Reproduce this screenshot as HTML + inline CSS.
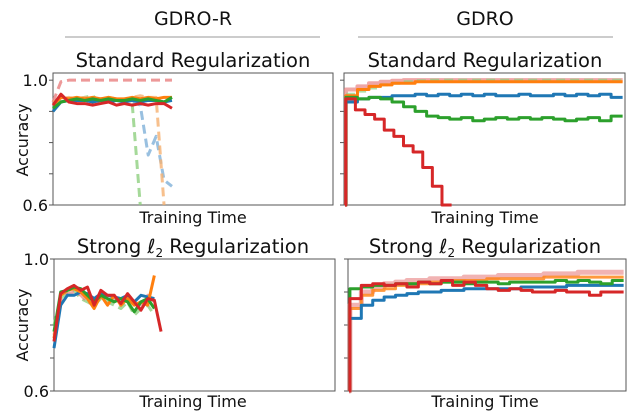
<!DOCTYPE html>
<html><head><meta charset="utf-8"><style>
body{margin:0;background:#fff;font-family:"Liberation Sans","DejaVu Sans",sans-serif}
svg text{font-family:"DejaVu Sans","Liberation Sans",sans-serif;fill:#111}
</style></head><body>
<svg id="c" width="640" height="412" viewBox="0 0 640 412" xmlns="http://www.w3.org/2000/svg">
<text x="193" y="25" font-size="19" text-anchor="middle">GDRO-R</text>
<line x1="65" y1="37" x2="320" y2="37" stroke="#999"/>
<text x="485" y="25" font-size="19" text-anchor="middle">GDRO</text>
<line x1="358" y1="37" x2="613" y2="37" stroke="#999"/>
<text x="193" y="67" font-size="19.5" text-anchor="middle">Standard Regularization</text>
<text x="485" y="67" font-size="19.5" text-anchor="middle">Standard Regularization</text>
<text x="193" y="253" font-size="19.5" text-anchor="middle">Strong <tspan font-style="italic">ℓ</tspan><tspan font-size="12" dy="4">2</tspan><tspan dy="-4"> Regularization</tspan></text>
<text x="485" y="253" font-size="19.5" text-anchor="middle">Strong <tspan font-style="italic">ℓ</tspan><tspan font-size="12" dy="4">2</tspan><tspan dy="-4"> Regularization</tspan></text>
<text x="193" y="223" font-size="16" text-anchor="middle">Training Time</text>
<text x="485" y="223" font-size="16" text-anchor="middle">Training Time</text>
<text x="193" y="407" font-size="16" text-anchor="middle">Training Time</text>
<text x="485" y="407" font-size="16" text-anchor="middle">Training Time</text>
<text transform="translate(28,140) rotate(-90)" font-size="16" text-anchor="middle">Accuracy</text>
<text transform="translate(28,325) rotate(-90)" font-size="16" text-anchor="middle">Accuracy</text>
</svg>
<script>
const yTicks=[0.6,0.7,0.8,0.9,1.0];
const yTickLabels=["0.6","","","","1.0"];
// GDRO-R standard
const tlBlue=[0.90,0.93,0.935,0.935,0.935,0.93,0.935,0.93,0.935,0.93,0.935,0.93,0.935,0.935,0.93,0.935];
const tlOrange=[0.92,0.945,0.94,0.945,0.94,0.945,0.94,0.945,0.94,0.94,0.945,0.94,0.945,0.94,0.945,0.945];
const tlGreen=[0.91,0.93,0.935,0.94,0.935,0.94,0.935,0.94,0.935,0.935,0.94,0.935,0.94,0.935,0.93,0.945];
const tlRed=[0.92,0.955,0.93,0.925,0.925,0.92,0.925,0.93,0.92,0.925,0.92,0.925,0.92,0.925,0.925,0.91];
const tlPinkD=[0.93,0.995,1.0,1.0,1.0,1.0,1.0,1.0,1.0,1.0,1.0,1.0,1.0,1.0,1.0,1.0];
const tlGreenD=[0.92,0.935,0.94,0.94,0.945,0.95,0.93,0.935,0.94,0.935,0.92,0.6];
const tlBlueD=[0.91,0.93,0.935,0.935,0.94,0.935,0.94,0.93,0.935,0.94,0.93,0.92,0.76,0.82,0.68,0.66];
const tlOrangeD=[0.93,0.94,0.945,0.94,0.945,0.94,0.94,0.945,0.94,0.935,0.945,0.95,0.945,0.945,0.6];
// GDRO standard (step)
const trBlue=[0.6,0.93,0.94,0.945,0.945,0.95,0.95,0.955,0.95,0.955,0.95,0.955,0.95,0.955,0.95,0.95,0.955,0.95,0.95,0.955,0.95,0.955,0.95,0.955,0.945];
const trGreen=[0.6,0.945,0.94,0.945,0.94,0.93,0.915,0.90,0.885,0.88,0.875,0.88,0.87,0.875,0.88,0.875,0.88,0.875,0.88,0.875,0.87,0.875,0.88,0.87,0.885];
const trRed=[0.6,0.94,0.905,0.89,0.875,0.84,0.82,0.79,0.77,0.72,0.66,0.6];
const trOrange=[0.6,0.95,0.97,0.98,0.985,0.99,0.99,0.995,0.995,0.995,0.995,0.995,0.995,0.995,0.995,0.995,0.995,0.995,0.995,0.995,0.995,0.995,0.995,0.995,0.995];
const trPink=[0.6,0.97,0.98,0.99,0.995,0.998,1.0,1.0,1.0,1.0,1.0,1.0,1.0,1.0,1.0,1.0,1.0,1.0,1.0,1.0,1.0,1.0,1.0,1.0,1.0];
const trLGreen=[0.6,0.955,0.965,0.975,0.985,0.99,0.995,0.998,1.0,1.0,1.0,1.0,1.0,1.0,1.0,1.0,1.0,1.0,1.0,1.0,1.0,1.0,1.0,1.0,1.0];
// GDRO-R strong
const blBlue=[0.73,0.86,0.89,0.89,0.90,0.895,0.88,0.895,0.89,0.885,0.88,0.89,0.87,0.89,0.885,0.88];
const blOrange=[0.76,0.89,0.905,0.91,0.90,0.88,0.85,0.89,0.86,0.89,0.86,0.88,0.86,0.87,0.86,0.95];
const blGreen=[0.78,0.90,0.905,0.915,0.91,0.89,0.87,0.89,0.88,0.87,0.88,0.87,0.84,0.87,0.88,0.85];
const blLGreen=[0.8,0.88,0.90,0.905,0.88,0.87,0.86,0.88,0.87,0.86,0.85,0.87,0.83,0.85,0.86,0.83];
const blPink=[0.77,0.87,0.895,0.90,0.89,0.87,0.86,0.89,0.87,0.88,0.86,0.89,0.87,0.86,0.89,0.87];
const blRed=[0.75,0.895,0.91,0.92,0.905,0.915,0.86,0.905,0.89,0.89,0.865,0.895,0.87,0.845,0.88,0.875,0.78];
// GDRO strong (step)
const brBlue=[0.6,0.82,0.86,0.875,0.885,0.89,0.895,0.90,0.90,0.905,0.905,0.91,0.91,0.91,0.91,0.91,0.915,0.915,0.915,0.915,0.92,0.92,0.92,0.92,0.92];
const brGreen=[0.6,0.91,0.915,0.92,0.92,0.925,0.925,0.93,0.925,0.93,0.93,0.925,0.93,0.93,0.925,0.93,0.93,0.93,0.93,0.935,0.93,0.935,0.93,0.925,0.935];
const brRed=[0.6,0.88,0.92,0.925,0.92,0.925,0.915,0.93,0.925,0.935,0.92,0.93,0.92,0.91,0.905,0.91,0.905,0.90,0.9,0.905,0.9,0.9,0.89,0.9,0.9];
const brOrange=[0.6,0.85,0.89,0.905,0.91,0.92,0.925,0.925,0.93,0.93,0.935,0.935,0.935,0.94,0.94,0.94,0.94,0.94,0.945,0.945,0.945,0.945,0.945,0.945,0.945];
const brPink=[0.6,0.86,0.9,0.915,0.925,0.93,0.935,0.935,0.94,0.94,0.94,0.945,0.945,0.945,0.95,0.95,0.95,0.95,0.955,0.955,0.955,0.96,0.96,0.96,0.96];

const svg=document.getElementById('c');
const NS='http://www.w3.org/2000/svg';
const C={blue:'#1f77b4',orange:'#ff7f0e',green:'#2ca02c',red:'#d62728',pink:'#e88080',lgreen:'#8fcf80',lblue:'#7fb0d8',lorange:'#f5b070'};
function panel(name,x0,x1,y0,y1,yTop,showLabels){
  const r=document.createElementNS(NS,'rect');
  r.setAttribute('x',x0);r.setAttribute('y',y0);r.setAttribute('width',x1-x0);r.setAttribute('height',y1-y0);
  r.setAttribute('fill','none');r.setAttribute('stroke','#555');r.setAttribute('stroke-width','1');
  
  
  svg.appendChild(r);
  const ys=v=>y1-(v-0.6)/(yTop-0.6)*(y1-y0);
  yTicks.forEach((t,i)=>{
    const l=document.createElementNS(NS,'line');
    l.setAttribute('x1',x0-4);l.setAttribute('x2',x0);l.setAttribute('y1',ys(t));l.setAttribute('y2',ys(t));l.setAttribute('stroke','#555');
    
    
    svg.appendChild(l);
    if(showLabels&&yTickLabels[i]){
      const tx=document.createElementNS(NS,'text');
      tx.setAttribute('x',x0-5);tx.setAttribute('y',ys(t)+6);tx.setAttribute('text-anchor','end');tx.setAttribute('font-size','16');
      tx.textContent=yTickLabels[i];
      
      
      svg.appendChild(tx);
    }
  });
  return {x0,x1,ys};
}
function line(p,vals,n,col,opts,name){
  const w=p.x1-p.x0;
  const xs=opts.step?(i=>i===0?p.x0+1:p.x0+1+(i-0.92)/n*(w-2)):(i=>p.x0+i/n*w);
  let d='';
  vals.forEach((v,i)=>{
    if(opts.step&&i>0){d+='L'+xs(i)+','+p.ys(vals[i-1]);}
    d+=(i?'L':'M')+xs(i)+','+p.ys(v);
  });
  if(opts.step){d+='L'+xs(vals.length)+','+p.ys(vals[vals.length-1]);}
  const pa=document.createElementNS(NS,'path');
  pa.setAttribute('d',d);pa.setAttribute('fill','none');pa.setAttribute('stroke',col);
  pa.setAttribute('stroke-width',opts.w||3);pa.setAttribute('stroke-linejoin','round');
  if(opts.dash)pa.setAttribute('stroke-dasharray','9,5');
  if(opts.op)pa.setAttribute('opacity',opts.op);
  
  
  svg.appendChild(pa);
}
const tl=panel('tl',53,333,73,205,1.023,true);
const N1=35.3;
line(tl,tlPinkD,N1,C.pink,{dash:1,op:0.8},'tl-red-dashed');
line(tl,tlGreenD,N1,C.lgreen,{dash:1,op:0.8},'tl-green-dashed');
line(tl,tlBlueD,N1,C.lblue,{dash:1,op:0.8},'tl-blue-dashed');
line(tl,tlOrangeD,N1,C.lorange,{dash:1,op:0.8},'tl-orange-dashed');
line(tl,tlBlue,N1,C.blue,{},'tl-blue');
line(tl,tlOrange,N1,C.orange,{},'tl-orange');
line(tl,tlGreen,N1,C.green,{},'tl-green');
line(tl,tlRed,N1,C.red,{},'tl-red');
const tr=panel('tr',344,625,73,205,1.023,false);
const N2=24.2;
line(tr,trPink,N2,C.pink,{step:1,op:0.7,w:4},'tr-pink');
line(tr,trLGreen,N2,C.lgreen,{step:1,op:0.7,dash:1},'tr-lgreen');
line(tr,trOrange,N2,C.orange,{step:1},'tr-orange');
line(tr,trBlue,N2,C.blue,{step:1},'tr-blue');
line(tr,trGreen,N2,C.green,{step:1},'tr-green');
line(tr,trRed,29,C.red,{step:1},'tr-red');
const bl=panel('bl',54,335,259,391,1.0,true);
const N3=42;
line(bl,blLGreen,N3,C.lgreen,{dash:1,op:0.8},'bl-lgreen-dashed');
line(bl,blPink,N3,C.pink,{dash:1,op:0.7},'bl-pink-dashed');
line(bl,blBlue,N3,C.blue,{},'bl-blue');
line(bl,blOrange,N3,C.orange,{},'bl-orange');
line(bl,blGreen,N3,C.green,{},'bl-green');
line(bl,blRed,N3,C.red,{},'bl-red');
const br=panel('br',348,626,259,391,1.0,false);
line(br,brPink,N2,C.pink,{step:1,op:0.6,w:5},'br-pink');
line(br,brOrange,N2,C.orange,{step:1,op:0.8},'br-orange');
line(br,brBlue,N2,C.blue,{step:1},'br-blue');
line(br,brGreen,N2,C.green,{step:1},'br-green');
line(br,brRed,N2,C.red,{step:1},'br-red');
</script>
</body></html>
